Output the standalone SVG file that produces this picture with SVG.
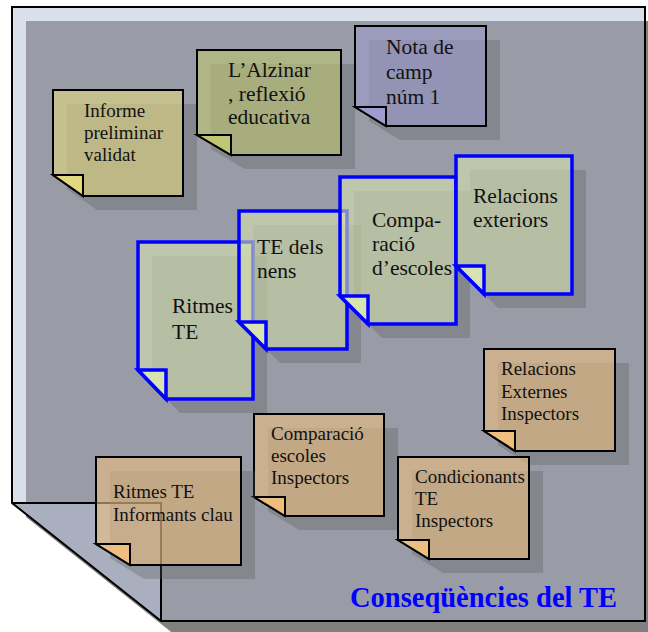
<svg xmlns="http://www.w3.org/2000/svg" width="648" height="632" viewBox="0 0 648 632">
<style>
.frameShadow{fill:#808080}
.frameBody{fill:#d9e0ea}
.frameInner{fill:#999ca6}
.flap{fill:#a9afbe}
.frameLine{fill:none;stroke:#000;stroke-width:2;stroke-linejoin:miter}
.shadow{fill:#555;fill-opacity:0.3}
.body{fill-opacity:0.6;stroke:#000;stroke-width:2;stroke-linejoin:miter}
.fold{stroke:#000;stroke-width:2;stroke-linejoin:miter}
.blue .body,.blue .fold{stroke:#0000ff;stroke-width:3.5}
.yel{fill:#e2d880}
.grn{fill:#bfc671}
.lav{fill:#9d9bcf}
.sage{fill:#d7e3b1}
.tan{fill:#edbe80}
text{font-family:"Liberation Serif","Times New Roman",serif;fill:#111}
.t19{font-size:19px}
.t21{font-size:21.5px}
.title{font-size:28.5px;font-weight:bold;fill:#0000ff}
</style>
<g id="frame">
<polygon class="frameShadow" points="26,21 662,21 662,635 175,635 26,517"/>
<polygon class="frameBody" points="12,7 645,7 645,621 161,621 12,503"/>
<polygon class="frameInner" points="26,21 645,21 645,621 161,621 161,503 26,503"/>
<polygon class="flap" points="12,503 161,503 161,621"/>
<polyline class="frameLine" points="12,503 161,503 161,621"/>
<polygon class="frameLine" points="12,7 645,7 645,621 161,621 12,503"/>
</g>
<g id="note-informe">
<polygon class="shadow" points="67,104 197,104 197,210 97,210 67,189"/>
<polygon class="body yel" points="53,90 183,90 183,196 83,196 53,175"/>
<polygon class="fold yel" points="53,175 83,175 83,196"/>
<text class="t19" x="84" y="117">Informe</text>
<text class="t19" x="84" y="139">preliminar</text>
<text class="t19" x="84" y="161">validat</text>
</g>
<g id="note-alzinar">
<polygon class="shadow" points="211,64 355,64 355,169 245,169 211,149"/>
<polygon class="body grn" points="197,50 341,50 341,155 231,155 197,135"/>
<polygon class="fold grn" points="197,135 231,135 231,155"/>
<text class="t21" x="228" y="77">L’Alzinar</text>
<text class="t21" x="228" y="101">, reflexió</text>
<text class="t21" x="228" y="124">educativa</text>
</g>
<g id="note-nota">
<polygon class="shadow" points="369,40 500,40 500,140 400,140 369,121"/>
<polygon class="body lav" points="355,26 486,26 486,126 386,126 355,107"/>
<polygon class="fold lav" points="355,107 386,107 386,126"/>
<text class="t21" x="386" y="54">Nota de</text>
<text class="t21" x="386" y="79">camp</text>
<text class="t21" x="386" y="104">núm 1</text>
</g>
<g id="note-relacions-externes-inspectors">
<polygon class="shadow" points="498,363 629,363 629,465 529,465 498,445"/>
<polygon class="body tan" points="484,349 615,349 615,451 515,451 484,431"/>
<polygon class="fold tan" points="484,431 515,431 515,451"/>
<text class="t19" x="501" y="375">Relacions</text>
<text class="t19" x="501" y="398">Externes</text>
<text class="t19" x="501" y="420">Inspectors</text>
</g>
<g id="note-comparacio-inspectors">
<polygon class="shadow" points="268,428 398,428 398,530 299,530 268,511"/>
<polygon class="body tan" points="254,414 384,414 384,516 285,516 254,497"/>
<polygon class="fold tan" points="254,497 285,497 285,516"/>
<text class="t19" x="271" y="440">Comparació</text>
<text class="t19" x="271" y="462">escoles</text>
<text class="t19" x="271" y="484">Inspectors</text>
</g>
<g id="note-condicionants-inspectors">
<polygon class="shadow" points="412,471 543,471 543,573 443,573 412,554"/>
<polygon class="body tan" points="398,457 529,457 529,559 429,559 398,540"/>
<polygon class="fold tan" points="398,540 429,540 429,559"/>
<text class="t19" x="415" y="483">Condicionants</text>
<text class="t19" x="415" y="505">TE</text>
<text class="t19" x="415" y="527">Inspectors</text>
</g>
<g id="note-ritmes-informants">
<polygon class="shadow" points="110,471 255,471 255,579 144,579 110,558"/>
<polygon class="body tan" points="96,457 241,457 241,565 130,565 96,544"/>
<polygon class="fold tan" points="96,544 130,544 130,565"/>
<text class="t19" x="113" y="498">Ritmes TE</text>
<text class="t19" x="113" y="521">Informants clau</text>
</g>
<g id="note-ritmes-te" class="blue">
<polygon class="shadow" points="152,256 267,256 267,413 180,413 152,384"/>
<polygon class="body sage" points="138,242 253,242 253,399 166,399 138,370"/>
<polygon class="fold sage" points="138,370 166,370 166,399"/>
<text class="t21" x="172" y="313">Ritmes</text>
<text class="t21" x="172" y="339">TE</text>
</g>
<g id="note-te-nens" class="blue">
<polygon class="shadow" points="253,225 361,225 361,363 280,363 253,336"/>
<polygon class="body sage" points="239,211 347,211 347,349 266,349 239,322"/>
<polygon class="fold sage" points="239,322 266,322 266,349"/>
<text class="t21" x="257" y="254">TE dels</text>
<text class="t21" x="257" y="278">nens</text>
</g>
<g id="note-comparacio-escoles" class="blue">
<polygon class="shadow" points="354,191 470,191 470,338 382,338 354,310"/>
<polygon class="body sage" points="340,177 456,177 456,324 368,324 340,296"/>
<polygon class="fold sage" points="340,296 368,296 368,324"/>
<text class="t21" x="372" y="227">Compa-</text>
<text class="t21" x="372" y="251">ració</text>
<text class="t21" x="372" y="275">d’escoles</text>
</g>
<g id="note-relacions-exteriors" class="blue">
<polygon class="shadow" points="470,170 586,170 586,308 498,308 470,280"/>
<polygon class="body sage" points="456,156 572,156 572,294 484,294 456,266"/>
<polygon class="fold sage" points="456,266 484,266 484,294"/>
<text class="t21" x="473" y="203">Relacions</text>
<text class="t21" x="473" y="227">exteriors</text>
</g>
<g id="connectors"></g>
<text class="title" x="350" y="607">Conseqüències del TE</text>
</svg>
